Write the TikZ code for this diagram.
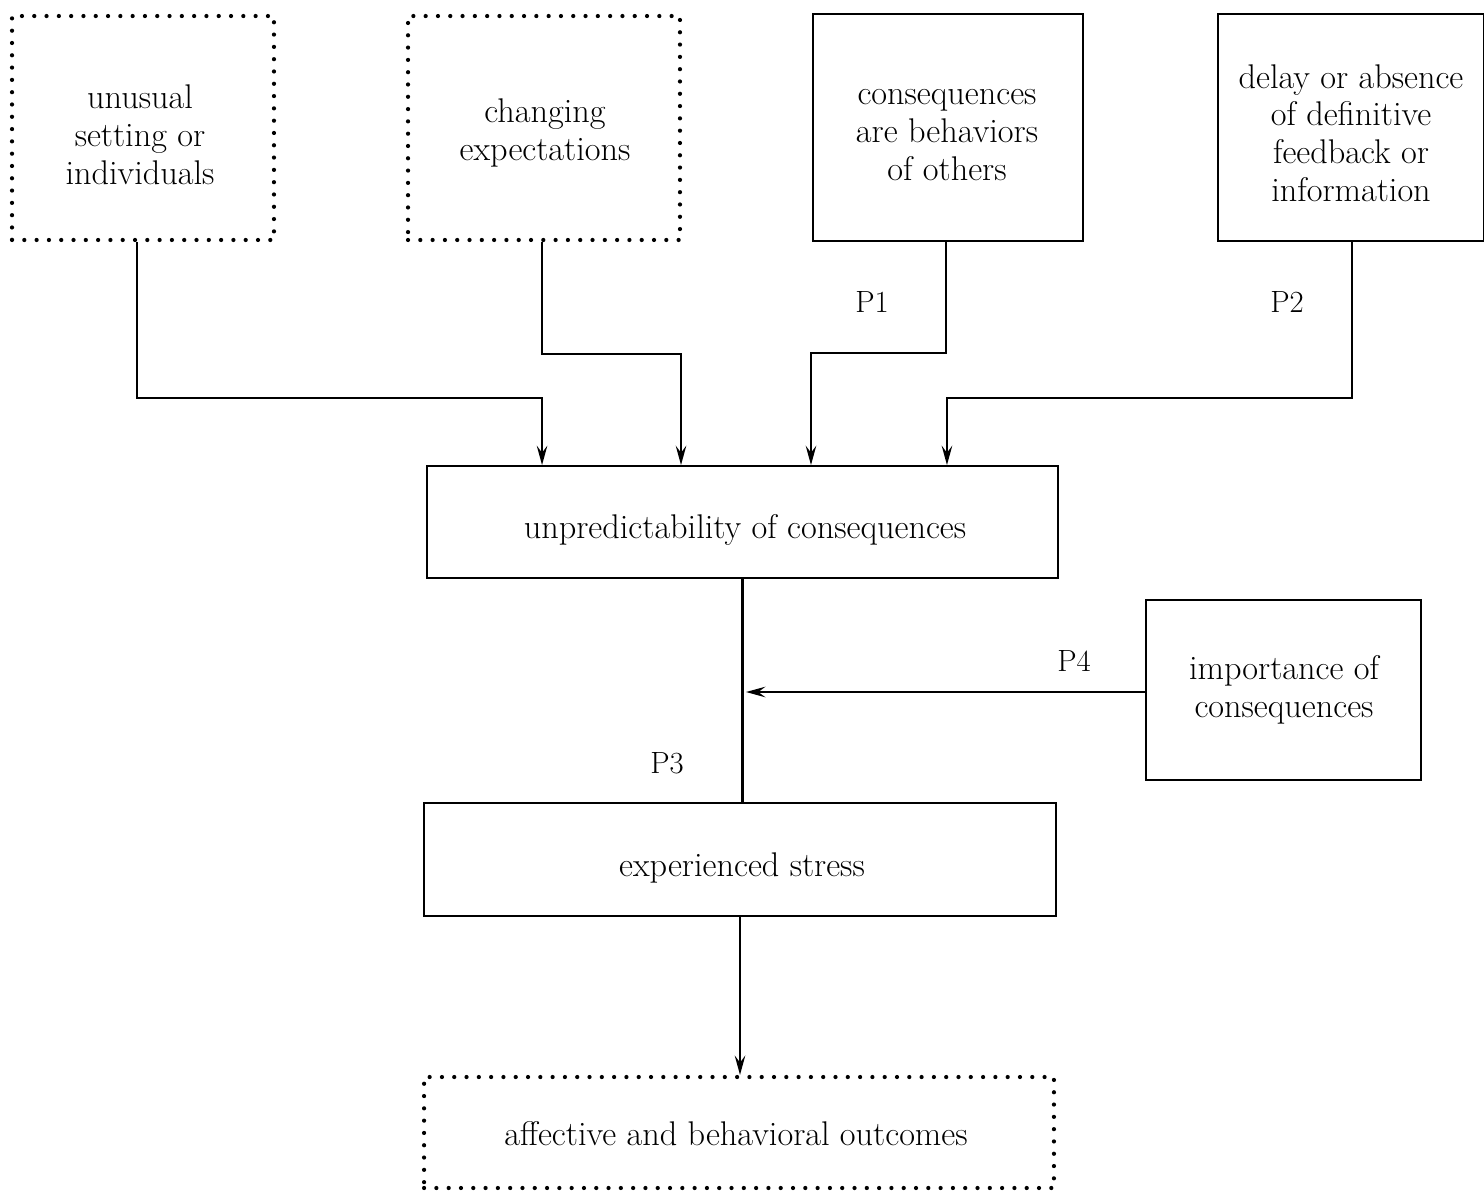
\documentclass[tikz,border=0pt]{standalone}
\usetikzlibrary{arrows.meta,calc}
\begin{document}
\begin{tikzpicture}[x=0.02cm,y=-0.02cm,
  solidbox/.style={draw,line width=1.1pt,rectangle,inner sep=0pt},
  dotbox/.style={draw,line width=2.4pt,rectangle,inner sep=0pt,dash pattern=on 0pt off 7pt,line cap=round},
  txt/.style={align=center,font=\fontsize{19.5}{21.5}\selectfont,inner sep=0pt},
  lbl/.style={font=\fontsize{17.5}{21.5}\selectfont,inner sep=0pt},
  conn/.style={line width=1.2pt},
  arr/.style={conn,-{Stealth[length=11pt,width=6pt,inset=4pt]}}]
\useasboundingbox (0,0) rectangle (1484,1191);
% boxes
\node[dotbox,minimum width=5.24cm,minimum height=4.48cm] (A) at (143,128) {};
\node[dotbox,minimum width=5.44cm,minimum height=4.48cm] (B) at (544,128) {};
\node[solidbox,minimum width=5.4cm,minimum height=4.54cm] (C) at (948,127.5) {};
\node[solidbox,minimum width=5.32cm,minimum height=4.54cm] (D) at (1351,127.5) {};
\node[solidbox,minimum width=12.62cm,minimum height=2.24cm] (E) at (742.5,522) {};
\node[solidbox,minimum width=5.5cm,minimum height=3.6cm] (F) at (1283.5,690) {};
\node[solidbox,minimum width=12.64cm,minimum height=2.26cm] (G) at (740,859.5) {};
\node[dotbox,minimum width=12.6cm,minimum height=2.22cm] (H) at (739,1132.5) {};
% texts
\node[txt] (At) at (140,135) {unusual\\setting or\\individuals};
\node[txt] (Bt) at (545,133) {changing\\expectations};
\node[txt] (Ct) at (947,135) {consequences\\are behaviors\\of others};
\node[txt] (Dt) at (1351,133) {delay or absence\\of definitive\\feedback or\\information};
\node[txt] (Et) at (745,530) {unpredictability of consequences};
\node[txt] (Ft) at (1284,690) {importance of\\consequences};
\node[txt] (Gt) at (742,868) {experienced stress};
\node[txt] (Ht) at (736,1134) {affective and behavioral outcomes};
% labels
\node[lbl] (P1) at (872,302) {P1};
\node[lbl] (P2) at (1287,302) {P2};
\node[lbl] (P3) at (667,763) {P3};
\node[lbl] (P4) at (1074,661) {P4};
% connectors
\draw[arr] ([xshift=-0.12cm]A.south) -- ++(0,156) -| ([xshift=-4.01cm]E.north);
\draw[arr] ([xshift=-0.04cm]B.south) -- ++(0,112) -| ([xshift=-1.23cm]E.north);
\draw[arr] ([xshift=-0.04cm]C.south) -- ++(0,111) -| ([xshift=1.37cm]E.north);
\draw[arr] ([xshift=0.02cm]D.south) -- ++(0,156) -| ([xshift=4.09cm]E.north);
\draw[conn] (E.south) -- (E.south |- G.north);
\coordinate (m) at (746,692);
\draw[arr] (F.west |- m) -- (m);
\draw[arr] (G.south) -- (G.south |- H.north);
\end{tikzpicture}
\end{document}
